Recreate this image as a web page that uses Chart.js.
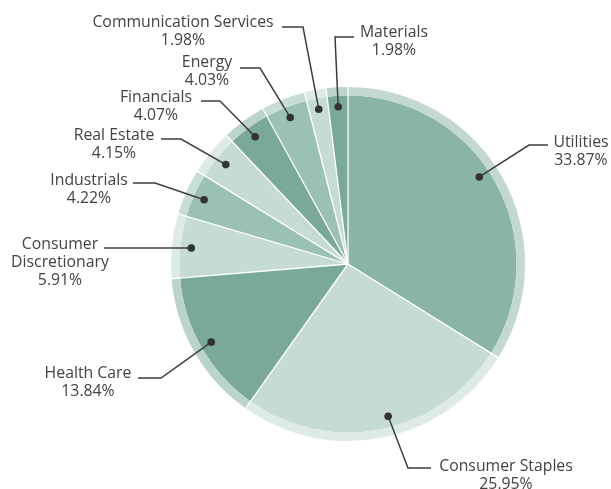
<!DOCTYPE html>
<html>
<head>
<meta charset="utf-8">
<script src="https://cdn.jsdelivr.net/npm/chart.js@4.4.1/dist/chart.umd.min.js"></script>
<style>
  html, body { margin: 0; padding: 0; background: #fff; }
</style>
</head>
<body>
<canvas id="myChart" width="611" height="489"></canvas>
<script>
const categories = [
  "Utilities", "Consumer Staples", "Health Care", "Consumer Discretionary",
  "Industrials", "Real Estate", "Financials", "Energy",
  "Communication Services", "Materials",
];
const values = [33.87, 25.95, 13.84, 5.91, 4.22, 4.15, 4.07, 4.03, 1.98, 1.98];

const sliceColors = [
  "#8ab4a8", "#c6dbd4", "#7aa89b", "#c6dbd4", "#9bc0b5",
  "#c6dbd4", "#7aa89b", "#9bc0b5", "#c6dbd4", "#7aa89b",
];
const bandColors = [
  "#c2d8d1", "#deeae6", "#bad3cb", "#deeae6", "#c8ddd6",
  "#deeae6", "#bad3cb", "#c8ddd6", "#deeae6", "#bad3cb",
];

// label placement: text centre x, first line middle y, elbow and end of the leader,
// optional nudge (degrees) of the dot away from the slice middle
const labelLayout = [
  { x: 581, y: 142, elbow: [529, 145], end: [548, 145], shift: -4.5 },
  { x: 506, y: 466, elbow: [408, 468], end: [431, 468], shift: -3.4 },
  { x: 88, y: 373, elbow: [161, 378], end: [138, 378] },
  { x: 60, y: 244, elbow: [104, 248], end: [104, 248], wrap: true },
  { x: 89, y: 180, elbow: [155, 183], end: [133, 183] },
  { x: 114, y: 135, elbow: [181, 139], end: [161, 139] },
  { x: 156, y: 97, elbow: [220, 101], end: [201, 101] },
  { x: 207, y: 62, elbow: [260, 68], end: [240, 68] },
  { x: 183, y: 22, elbow: [303, 27], end: [282, 27] },
  { x: 394, y: 32, elbow: [335, 37], end: [354, 37] },
];

const labelPlugin = {
  id: "pieLabels",
  afterDatasetsDraw(chart) {
    const ctx = chart.ctx;
    const outer = chart.getDatasetMeta(0).data;
    const inner = chart.getDatasetMeta(1).data;
    const cx = inner[0].x;
    const cy = inner[0].y;
    const R = outer[0].outerRadius;

    ctx.save();
    // white separators through both rings
    ctx.strokeStyle = "#ffffff";
    ctx.lineWidth = 1.3;
    inner.forEach((arc) => {
      ctx.beginPath();
      ctx.moveTo(cx, cy);
      ctx.lineTo(cx + Math.cos(arc.startAngle) * (R + 1), cy + Math.sin(arc.startAngle) * (R + 1));
      ctx.stroke();
    });

    // leaders, dots and text
    ctx.font = "15.8px 'Open Sans'";
    ctx.textAlign = "center";
    ctx.textBaseline = "middle";
    inner.forEach((arc, i) => {
      const lay = labelLayout[i];
      const mid = (arc.startAngle + arc.endAngle) / 2 + ((lay.shift || 0) * Math.PI) / 180;
      const dx = cx + Math.cos(mid) * R * 0.89;
      const dy = cy + Math.sin(mid) * R * 0.89;

      ctx.strokeStyle = "#3d3d3d";
      ctx.lineWidth = 1.5;
      ctx.beginPath();
      ctx.moveTo(dx, dy);
      ctx.lineTo(lay.elbow[0], lay.elbow[1]);
      ctx.lineTo(lay.end[0], lay.end[1]);
      ctx.stroke();

      ctx.fillStyle = "#333333";
      ctx.beginPath();
      ctx.arc(dx, dy, 3.8, 0, Math.PI * 2);
      ctx.fill();

      const lines = lay.wrap ? categories[i].split(" ") : [categories[i]];
      lines.push(values[i].toFixed(2) + "%");
      ctx.fillStyle = "#434343";
      lines.forEach((t, k) => ctx.fillText(t, lay.x, lay.y + k * 18));
    });
    ctx.restore();
  },
};

const ctx = document.getElementById("myChart").getContext("2d");

new Chart(ctx, {
  type: "pie",
  data: {
    labels: categories,
    datasets: [
      { data: values, backgroundColor: bandColors, borderWidth: 0, weight: 8.5 },
      { data: values, backgroundColor: sliceColors, borderWidth: 0, weight: 168.5 },
    ],
  },
  options: {
    responsive: false,
    animation: false,
    layout: { padding: { left: 171, right: 86, top: 87, bottom: 48 } },
    plugins: {
      legend: { display: false },
      tooltip: { enabled: false },
    },
  },
  plugins: [labelPlugin],
});
</script>
</body>
</html>
